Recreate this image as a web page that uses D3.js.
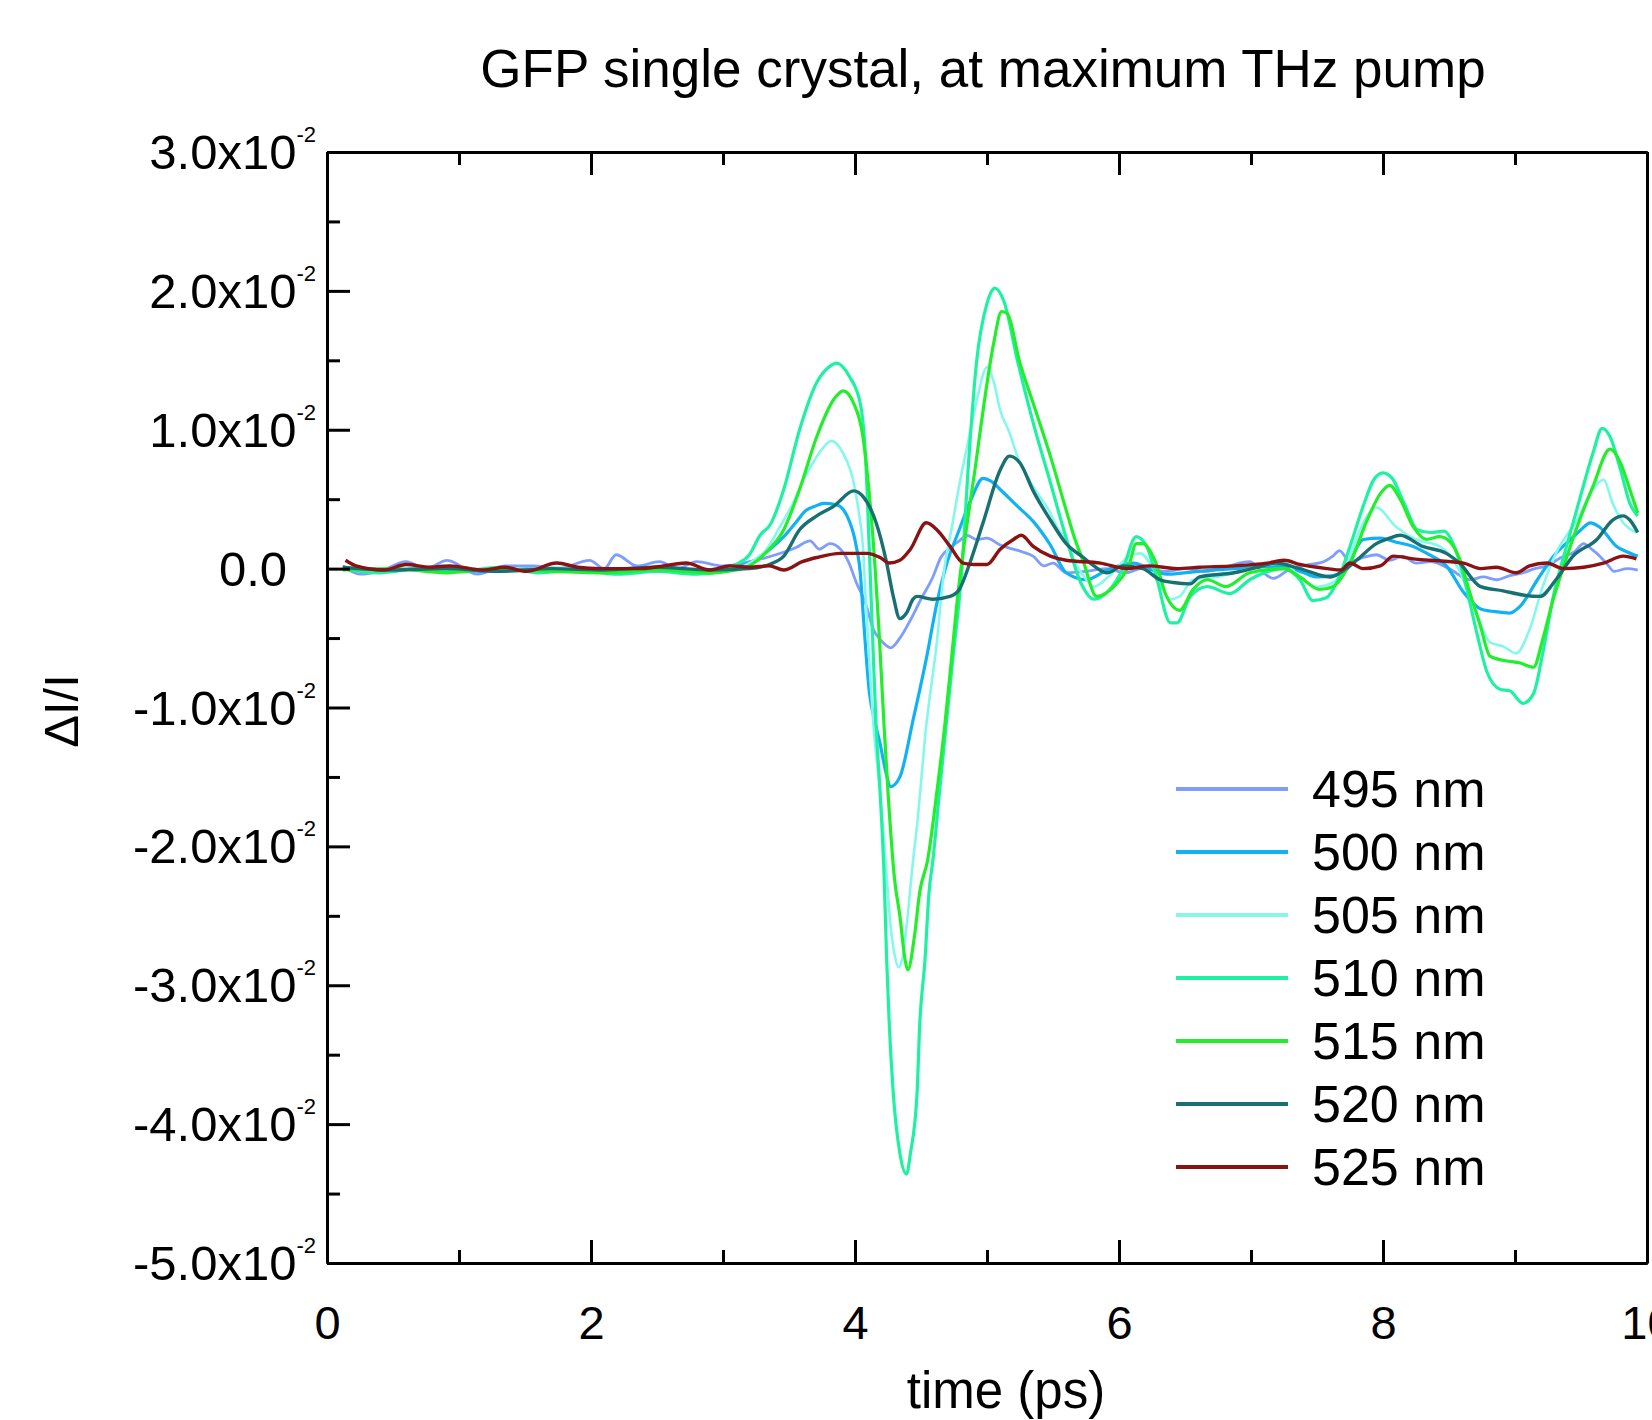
<!DOCTYPE html>
<html>
<head>
<meta charset="utf-8">
<script src="https://cdn.jsdelivr.net/npm/d3@7"></script>
<style>
  body { margin: 0; background: #fff; }
  text { font-family: "Liberation Sans", Arial, sans-serif; fill: #000; }
</style>
</head>
<body>
<svg id="chart" width="1652" height="1420"></svg>
<script>
// values in units of 1e-2 (dI/I), time in ps
var labels = ["495 nm", "500 nm", "505 nm", "510 nm", "515 nm", "520 nm", "525 nm"];
var colors = ["#7f9dff", "#10b2f4", "#86f7ee", "#1ff1a2", "#22ee2c", "#187072", "#8b1212"];
var yTicks = [3, 2, 1, 0, -1, -2, -3, -4, -5];
var xTicks = [0, 2, 4, 6, 8, 10];

var s495 = [[0.12,0.02],[0.25,-0.04],[0.40,-0.02],[0.60,0.05],[0.75,0.0],[0.91,0.06],[1.14,-0.04],[1.35,0.02],[1.56,0.02],[1.75,0.0],[1.99,0.06],[2.1,0.0],[2.19,0.10],[2.35,0.02],[2.52,0.05],[2.65,0.0],[2.80,0.05],[3.0,0.02],[3.2,0.05],[3.4,0.10],[3.55,0.15],[3.66,0.20],[3.73,0.14],[3.81,0.18],[3.89,0.14],[3.95,0.05],[4.01,-0.10],[4.08,-0.25],[4.14,-0.44],[4.20,-0.52],[4.27,-0.57],[4.34,-0.50],[4.42,-0.37],[4.50,-0.22],[4.59,-0.06],[4.65,0.08],[4.72,0.15],[4.79,0.20],[4.85,0.24],[4.92,0.21],[5.0,0.22],[5.10,0.17],[5.20,0.14],[5.27,0.12],[5.35,0.09],[5.43,0.02],[5.50,0.04],[5.60,-0.03],[5.75,-0.02],[5.9,0.0],[6.05,-0.03],[6.2,0.01],[6.35,-0.02],[6.5,0.0],[6.65,-0.02],[6.8,0.01],[6.99,0.05],[7.08,-0.02],[7.17,-0.07],[7.3,0.0],[7.45,0.03],[7.55,0.05],[7.62,0.09],[7.67,0.13],[7.75,0.05],[7.85,0.08],[7.95,0.10],[8.05,0.06],[8.15,0.09],[8.25,0.04],[8.36,0.05],[8.5,0.0],[8.66,-0.08],[8.76,-0.06],[8.86,-0.08],[8.96,-0.05],[9.06,-0.03],[9.15,0.0],[9.24,0.02],[9.35,0.08],[9.45,0.12],[9.52,0.18],[9.58,0.14],[9.62,0.11],[9.7,0.03],[9.75,-0.02],[9.85,0.0],[9.93,-0.01]];

var s500 = [[0.12,0.0],[0.4,-0.02],[0.8,0.01],[1.2,-0.02],[1.6,0.0],[2.0,-0.02],[2.4,0.01],[2.8,-0.01],[3.0,0.0],[3.2,0.04],[3.33,0.12],[3.46,0.23],[3.55,0.33],[3.63,0.42],[3.70,0.45],[3.76,0.47],[3.86,0.46],[3.94,0.38],[4.01,0.16],[4.04,-0.03],[4.06,-0.30],[4.11,-0.90],[4.15,-1.10],[4.19,-1.26],[4.23,-1.45],[4.27,-1.57],[4.34,-1.50],[4.44,-1.09],[4.54,-0.65],[4.62,-0.25],[4.69,0.02],[4.79,0.28],[4.88,0.50],[4.97,0.65],[5.03,0.63],[5.10,0.57],[5.23,0.45],[5.35,0.34],[5.48,0.17],[5.60,-0.03],[5.75,-0.08],[5.91,-0.01],[6.0,0.02],[6.11,0.04],[6.25,-0.01],[6.36,-0.04],[6.49,-0.03],[6.6,-0.02],[6.87,0.0],[7.05,0.01],[7.24,0.02],[7.4,-0.03],[7.5,-0.06],[7.62,-0.05],[7.73,0.0],[7.80,0.15],[7.85,0.21],[7.98,0.22],[8.1,0.19],[8.23,0.16],[8.35,0.10],[8.48,0.02],[8.61,-0.17],[8.74,-0.29],[8.85,-0.31],[8.96,-0.32],[9.04,-0.27],[9.17,-0.08],[9.31,0.11],[9.42,0.21],[9.50,0.28],[9.57,0.33],[9.64,0.30],[9.77,0.16],[9.85,0.12],[9.93,0.09]];

var s505 = [[0.12,0.01],[0.5,-0.01],[0.9,0.02],[1.3,-0.02],[1.7,0.01],[2.1,-0.01],[2.5,0.0],[2.9,-0.02],[3.1,0.0],[3.2,0.04],[3.33,0.14],[3.43,0.30],[3.53,0.47],[3.60,0.62],[3.68,0.76],[3.75,0.86],[3.82,0.92],[3.91,0.83],[3.99,0.62],[4.03,0.40],[4.06,0.16],[4.08,-0.20],[4.10,-0.53],[4.14,-1.13],[4.19,-1.61],[4.23,-2.09],[4.27,-2.58],[4.30,-2.78],[4.33,-2.87],[4.36,-2.80],[4.39,-2.58],[4.44,-2.10],[4.47,-1.85],[4.54,-1.13],[4.62,-0.53],[4.67,-0.05],[4.74,0.33],[4.80,0.65],[4.85,0.88],[4.92,1.20],[5.0,1.45],[5.05,1.35],[5.10,1.14],[5.17,0.98],[5.23,0.81],[5.35,0.59],[5.48,0.40],[5.53,0.30],[5.60,0.20],[5.68,0.02],[5.73,-0.05],[5.81,-0.13],[5.93,-0.05],[6.08,0.09],[6.16,0.11],[6.26,0.0],[6.39,-0.22],[6.46,-0.20],[6.56,-0.08],[6.74,-0.06],[7.0,0.0],[7.25,0.04],[7.37,-0.06],[7.5,-0.13],[7.62,-0.10],[7.73,0.04],[7.80,0.22],[7.88,0.38],[7.95,0.44],[8.10,0.30],[8.25,0.21],[8.43,0.16],[8.56,0.02],[8.69,-0.27],[8.81,-0.53],[8.91,-0.56],[9.01,-0.61],[9.11,-0.44],[9.21,-0.13],[9.31,0.11],[9.47,0.35],[9.59,0.57],[9.67,0.64],[9.74,0.47],[9.82,0.33],[9.92,0.26]];

var s510 = [[0.12,0.0],[0.4,-0.03],[0.7,0.0],[1.0,-0.02],[1.3,0.01],[1.6,-0.03],[1.9,-0.01],[2.2,-0.04],[2.5,-0.02],[2.8,-0.04],[3.0,-0.02],[3.1,0.03],[3.2,0.10],[3.28,0.24],[3.36,0.32],[3.46,0.57],[3.58,1.0],[3.71,1.34],[3.80,1.45],[3.86,1.48],[3.96,1.38],[4.04,1.19],[4.08,0.80],[4.11,0.10],[4.14,-0.66],[4.16,-1.13],[4.19,-1.61],[4.22,-2.20],[4.24,-2.82],[4.26,-3.29],[4.29,-3.78],[4.34,-4.21],[4.39,-4.36],[4.42,-4.21],[4.47,-3.78],[4.49,-3.29],[4.53,-2.82],[4.56,-2.34],[4.59,-2.10],[4.64,-1.61],[4.69,-1.13],[4.74,-0.66],[4.81,0.0],[4.86,0.76],[4.92,1.48],[5.0,1.91],[5.06,2.02],[5.13,1.92],[5.23,1.50],[5.35,1.05],[5.48,0.62],[5.60,0.22],[5.71,-0.10],[5.81,-0.22],[5.93,-0.15],[6.03,0.0],[6.13,0.23],[6.21,0.16],[6.28,-0.05],[6.39,-0.39],[6.44,-0.39],[6.54,-0.20],[6.67,-0.13],[6.84,-0.18],[6.99,-0.08],[7.25,0.0],[7.37,-0.08],[7.47,-0.23],[7.57,-0.21],[7.65,-0.10],[7.75,0.16],[7.85,0.45],[7.93,0.64],[8.0,0.69],[8.07,0.65],[8.16,0.47],[8.26,0.28],[8.36,0.26],[8.46,0.27],[8.56,0.11],[8.63,-0.13],[8.71,-0.46],[8.79,-0.75],[8.89,-0.87],[8.96,-0.88],[9.06,-0.97],[9.14,-0.90],[9.21,-0.61],[9.29,-0.20],[9.39,0.16],[9.49,0.50],[9.59,0.83],[9.66,1.01],[9.72,0.95],[9.80,0.71],[9.87,0.47],[9.93,0.38]];

var s515 = [[0.12,-0.01],[0.5,0.0],[0.9,-0.03],[1.3,0.0],[1.7,-0.02],[2.1,-0.03],[2.5,-0.01],[2.9,-0.03],[3.1,-0.01],[3.2,0.02],[3.33,0.12],[3.46,0.28],[3.58,0.57],[3.71,0.95],[3.84,1.22],[3.91,1.28],[3.99,1.19],[4.06,0.95],[4.11,0.52],[4.15,0.04],[4.18,-0.42],[4.22,-1.13],[4.25,-1.61],[4.30,-2.24],[4.34,-2.50],[4.38,-2.82],[4.40,-2.89],[4.45,-2.65],[4.49,-2.33],[4.55,-2.10],[4.62,-1.61],[4.68,-1.13],[4.73,-0.66],[4.78,-0.18],[4.85,0.33],[4.91,0.72],[4.95,1.0],[5.05,1.62],[5.11,1.85],[5.15,1.84],[5.25,1.48],[5.35,1.19],[5.48,0.81],[5.60,0.42],[5.66,0.23],[5.73,0.05],[5.83,-0.20],[5.96,-0.13],[6.08,0.04],[6.13,0.18],[6.18,0.18],[6.28,0.04],[6.36,-0.20],[6.46,-0.30],[6.56,-0.15],[6.67,-0.08],[6.81,-0.13],[6.99,-0.03],[7.25,0.0],[7.37,-0.06],[7.52,-0.15],[7.62,-0.13],[7.75,0.04],[7.88,0.35],[7.98,0.54],[8.05,0.60],[8.13,0.50],[8.23,0.30],[8.33,0.21],[8.43,0.23],[8.51,0.19],[8.58,0.07],[8.66,-0.18],[8.74,-0.42],[8.81,-0.63],[8.91,-0.66],[9.04,-0.68],[9.14,-0.71],[9.21,-0.51],[9.29,-0.22],[9.37,0.02],[9.47,0.30],[9.59,0.59],[9.72,0.86],[9.80,0.76],[9.87,0.57],[9.93,0.40]];

var s520 = [[0.12,0.01],[0.5,-0.01],[0.9,0.0],[1.3,-0.02],[1.7,0.0],[2.1,-0.01],[2.5,0.01],[2.9,-0.01],[3.2,0.0],[3.35,0.03],[3.46,0.09],[3.58,0.28],[3.71,0.38],[3.84,0.45],[3.99,0.56],[4.06,0.52],[4.16,0.33],[4.24,0.04],[4.29,-0.20],[4.34,-0.36],[4.39,-0.32],[4.44,-0.22],[4.47,-0.20],[4.59,-0.22],[4.72,-0.20],[4.79,-0.15],[4.87,0.04],[4.97,0.33],[5.10,0.71],[5.17,0.81],[5.25,0.76],[5.35,0.56],[5.48,0.35],[5.60,0.18],[5.73,0.08],[5.81,0.02],[5.91,-0.03],[6.03,0.02],[6.18,0.0],[6.31,-0.08],[6.41,-0.10],[6.54,-0.11],[6.61,-0.06],[6.87,-0.03],[7.05,0.01],[7.19,0.04],[7.37,0.0],[7.60,-0.06],[7.72,0.0],[7.80,0.06],[7.95,0.18],[8.05,0.22],[8.13,0.24],[8.30,0.16],[8.48,0.11],[8.58,0.04],[8.74,-0.13],[8.91,-0.16],[9.06,-0.19],[9.19,-0.20],[9.31,-0.08],[9.44,0.09],[9.62,0.21],[9.74,0.35],[9.82,0.38],[9.87,0.35],[9.93,0.26]];

var s525 = [[0.14,0.06],[0.22,0.02],[0.43,-0.01],[0.60,0.03],[0.78,0.01],[0.93,0.02],[1.18,-0.01],[1.35,0.01],[1.51,-0.02],[1.74,0.04],[1.9,0.01],[2.07,0.0],[2.37,0.0],[2.55,0.02],[2.72,0.04],[2.90,-0.01],[3.05,0.02],[3.2,0.01],[3.35,0.02],[3.46,-0.01],[3.6,0.05],[3.71,0.08],[3.89,0.11],[4.09,0.11],[4.19,0.08],[4.26,0.04],[4.34,0.06],[4.42,0.14],[4.54,0.33],[4.62,0.28],[4.72,0.16],[4.82,0.04],[4.90,0.03],[5.0,0.03],[5.10,0.14],[5.20,0.21],[5.26,0.24],[5.35,0.16],[5.48,0.09],[5.60,0.06],[5.86,0.04],[6.06,0.0],[6.23,0.02],[6.44,0.0],[6.61,0.01],[6.87,0.02],[7.12,0.04],[7.25,0.06],[7.37,0.03],[7.58,0.0],[7.68,-0.01],[7.75,0.04],[7.85,0.0],[7.98,0.02],[8.08,0.09],[8.23,0.07],[8.36,0.06],[8.61,0.04],[8.74,0.0],[8.86,0.01],[9.01,-0.03],[9.11,0.02],[9.24,0.04],[9.37,0.0],[9.52,0.01],[9.67,0.04],[9.82,0.09],[9.92,0.07]];

var series = [s495, s500, s505, s510, s515, s520, s525];
var widths = [2.8, 3.2, 2.6, 3.2, 3.2, 3.4, 3.4];

function drawChart() {
    var svg = d3.select("#chart");
    var left = 327, right = 1647, top = 152, bottom = 1263;

    var x = d3.scaleLinear().domain([0, 10]).range([left, right]);
    var y = d3.scaleLinear().domain([-5, 3]).range([bottom, top]);

    var line = d3.line()
        .x(function(d) { return x(d[0]); })
        .y(function(d) { return y(d[1]); })
        .curve(d3.curveMonotoneX);

    // curves
    svg.append("g")
        .selectAll("path")
        .data(series)
        .enter()
        .append("path")
            .attr("d", line)
            .attr("fill", "none")
            .attr("stroke", function(d, i) { return colors[i]; })
            .attr("stroke-width", function(d, i) { return widths[i]; })
            .attr("stroke-linejoin", "round");

    var oddX = [1, 3, 5, 7, 9];
    var halfY = [2.5, 1.5, 0.5, -0.5, -1.5, -2.5, -3.5, -4.5];

    // bottom axis
    svg.append("g").attr("class", "axis")
        .attr("transform", "translate(0," + bottom + ")")
        .call(d3.axisBottom(x).tickValues(xTicks).tickSize(-23).tickSizeOuter(0)
            .tickPadding(43).tickFormat(d3.format("d")));
    svg.append("g").attr("class", "axis")
        .attr("transform", "translate(0," + bottom + ")")
        .call(d3.axisBottom(x).tickValues(oddX).tickSize(-13).tickSizeOuter(0).tickFormat(""));

    // top axis
    svg.append("g").attr("class", "axis")
        .attr("transform", "translate(0," + top + ")")
        .call(d3.axisTop(x).tickValues(xTicks).tickSize(-23).tickSizeOuter(0).tickFormat(""));
    svg.append("g").attr("class", "axis")
        .attr("transform", "translate(0," + top + ")")
        .call(d3.axisTop(x).tickValues(oddX).tickSize(-13).tickSizeOuter(0).tickFormat(""));

    // left axis
    svg.append("g").attr("class", "axis")
        .attr("transform", "translate(" + left + ",0)")
        .call(d3.axisLeft(y).tickValues(yTicks).tickSize(-23).tickSizeOuter(0).tickFormat(""));
    svg.append("g").attr("class", "axis")
        .attr("transform", "translate(" + left + ",0)")
        .call(d3.axisLeft(y).tickValues(halfY).tickSize(-13).tickSizeOuter(0).tickFormat(""));

    // right frame
    svg.append("g").attr("class", "axis")
        .attr("transform", "translate(" + right + ",0)")
        .call(d3.axisRight(y).tickValues([]).tickSizeOuter(0));

    svg.selectAll(".axis path, .axis line")
        .attr("stroke", "#000")
        .attr("stroke-width", 3);
    svg.selectAll(".axis text")
        .attr("font-size", 47)
        .attr("font-family", "Liberation Sans, Arial, sans-serif")
        .attr("fill", "#000");

    // y tick labels with exponent
    var yl = svg.append("g");
    yTicks.forEach(function(v) {
        var t = yl.append("text")
            .attr("x", v === 0 ? 287 : 316)
            .attr("y", y(v) + 17)
            .attr("text-anchor", "end")
            .attr("font-size", 49);
        if (v === 0) {
            t.text("0.0");
        } else {
            t.append("tspan").text((v < 0 ? "-" : "") + Math.abs(v).toFixed(1) + "x10");
            t.append("tspan").attr("dy", -27).attr("font-size", 22).text("-2");
        }
    });

    // titles
    svg.append("text")
        .attr("x", 983).attr("y", 87)
        .attr("text-anchor", "middle")
        .attr("font-size", 53)
        .text("GFP single crystal, at maximum THz pump");

    svg.append("text")
        .attr("x", 1006).attr("y", 1408)
        .attr("text-anchor", "middle")
        .attr("font-size", 51)
        .text("time (ps)");

    svg.append("text")
        .attr("transform", "translate(78,711) rotate(-90)")
        .attr("text-anchor", "middle")
        .attr("font-size", 49)
        .text("ΔI/I");

    // legend
    var leg = svg.append("g")
        .selectAll("g")
        .data(labels)
        .enter()
        .append("g")
            .attr("transform", function(d, i) { return "translate(1176," + (789 + i * 63) + ")"; });
    leg.append("line")
        .attr("x1", 0).attr("x2", 112)
        .attr("stroke", function(d, i) { return colors[i]; })
        .attr("stroke-width", 4);
    leg.append("text")
        .attr("x", 136).attr("y", 18)
        .attr("font-size", 52)
        .text(function(d) { return d; });
}

drawChart();
</script>
</body>
</html>
